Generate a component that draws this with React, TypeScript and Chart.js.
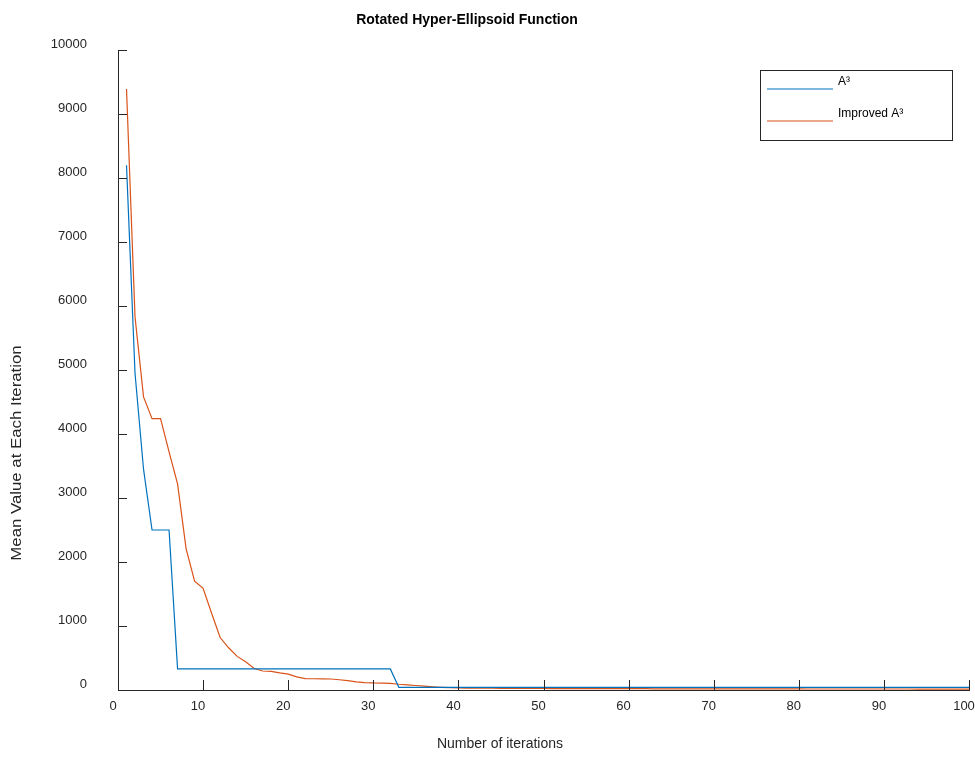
import React, { useEffect, useRef } from "react";
import { Chart, registerables } from "chart.js";

Chart.register(...registerables);

const chartTitle = "Rotated Hyper-Ellipsoid Function";
const xAxisTitle = "Number of iterations";
const yAxisTitle = "Mean Value at Each Iteration";
const seriesNames = ["A³", "Improved A³"];
const seriesColors = ["#0072BD", "#D95319"];

const iterations = [
  1, 2, 3, 4, 5, 6, 7, 8, 9, 10, 11, 12, 13, 14, 15, 16, 17, 18, 19, 20,
  21, 22, 23, 24, 25, 26, 27, 28, 29, 30, 31, 32, 33, 34, 35, 36, 37, 38, 39, 40,
  41, 42, 43, 44, 45, 46, 47, 48, 49, 50, 51, 52, 53, 54, 55, 56, 57, 58, 59, 60,
  61, 62, 63, 64, 65, 66, 67, 68, 69, 70, 71, 72, 73, 74, 75, 76, 77, 78, 79, 80,
  81, 82, 83, 84, 85, 86, 87, 88, 89, 90, 91, 92, 93, 94, 95, 96, 97, 98, 99, 100,
];

const a3Values = [
  8200, 4950, 3450, 2500, 2500, 2500, 330, 330, 330, 330,
  330, 330, 330, 330, 330, 330, 330, 330, 330, 330,
  330, 330, 330, 330, 330, 330, 330, 330, 330, 330,
  330, 330, 42, 42, 42, 42, 42, 42, 42, 42,
  42, 42, 42, 42, 42, 42, 42, 42, 42, 42,
  42, 42, 42, 42, 42, 42, 42, 42, 42, 42,
  42, 42, 42, 42, 42, 42, 42, 42, 42, 42,
  42, 42, 42, 42, 42, 42, 42, 42, 42, 42,
  42, 42, 42, 42, 42, 42, 42, 42, 42, 42,
  42, 42, 42, 42, 42, 42, 42, 42, 42, 42,
];

const improvedA3Values = [
  9390, 5830, 4580, 4240, 4240, 3720, 3220, 2210, 1700, 1590,
  1200, 820, 660, 525, 440, 335, 297, 292, 268, 248,
  205, 178, 176, 174, 172, 160, 145, 127, 116, 110,
  107, 104, 90, 80, 70, 60, 50, 42, 36, 31,
  29, 28, 27, 27, 26, 26, 25, 25, 24, 24,
  23, 23, 22, 22, 22, 21, 21, 21, 20, 20,
  20, 20, 19, 19, 19, 19, 18, 18, 18, 18,
  18, 18, 17, 17, 17, 17, 17, 17, 17, 17,
  16, 16, 16, 16, 16, 16, 16, 16, 16, 16,
  16, 16, 16, 15, 15, 15, 15, 15, 15, 15,
];

const FONT = "'Liberation Sans', Arial, Helvetica, sans-serif";
const AXIS_COLOR = "#262626";

const decorPlugin = {
  id: "matlabDecor",
  afterDraw(chart: any) {
    const ctx = chart.ctx as CanvasRenderingContext2D;
    const area = chart.chartArea;
    const xs = chart.scales.x;
    const ys = chart.scales.y;
    ctx.save();
    // inward tick marks
    ctx.strokeStyle = AXIS_COLOR;
    ctx.lineWidth = 1;
    ctx.beginPath();
    ys.ticks.forEach((t: any) => {
      const py = Math.round(ys.getPixelForValue(t.value)) + 0.5;
      ctx.moveTo(area.left, py);
      ctx.lineTo(area.left + 9, py);
    });
    xs.ticks.forEach((t: any) => {
      const px = Math.round(xs.getPixelForValue(t.value)) + 0.5;
      ctx.moveTo(px, area.bottom);
      ctx.lineTo(px, area.bottom - 10);
    });
    ctx.stroke();

    // title
    ctx.fillStyle = "#000";
    ctx.font = `bold 14px ${FONT}`;
    ctx.textAlign = "center";
    ctx.textBaseline = "middle";
    ctx.fillText(chartTitle, 467, 20);

    // x title
    ctx.fillStyle = AXIS_COLOR;
    ctx.font = `14px ${FONT}`;
    ctx.fillText(xAxisTitle, 500, 744);

    // y title
    ctx.save();
    ctx.translate(17, 453);
    ctx.rotate(-Math.PI / 2);
    ctx.scale(1.2, 1);
    ctx.fillText(yAxisTitle, 0, 0);
    ctx.restore();

    // legend
    const bx = 760.5, by = 70.5, bw = 192, bh = 70;
    ctx.fillStyle = "#fff";
    ctx.fillRect(bx, by, bw, bh);
    ctx.strokeStyle = AXIS_COLOR;
    ctx.lineWidth = 1;
    ctx.strokeRect(bx, by, bw, bh);
    const rows = [89, 121];
    chart.data.datasets.forEach((ds: any, i: number) => {
      ctx.strokeStyle = ds.borderColor;
      ctx.lineWidth = 1.2;
      ctx.beginPath();
      ctx.moveTo(767, rows[i]);
      ctx.lineTo(833, rows[i]);
      ctx.stroke();
      ctx.fillStyle = "#000";
      ctx.font = `12px ${FONT}`;
      ctx.textAlign = "left";
      ctx.textBaseline = "middle";
      ctx.fillText(ds.label, 838, rows[i] - 7);
    });
    ctx.restore();
  },
};

export default function App() {
  const canvasRef = useRef<HTMLCanvasElement | null>(null);

  useEffect(() => {
    if (!canvasRef.current) return;
    const chart = new Chart(canvasRef.current, {
      type: "line",
      data: {
        labels: iterations,
        datasets: [
          {
            label: seriesNames[0],
            data: iterations.map((x, i) => ({ x, y: a3Values[i] })),
            borderColor: seriesColors[0],
            backgroundColor: seriesColors[0],
            borderWidth: 1.2,
            pointRadius: 0,
            tension: 0,
            fill: false,
          },
          {
            label: seriesNames[1],
            data: iterations.map((x, i) => ({ x, y: improvedA3Values[i] })),
            borderColor: seriesColors[1],
            backgroundColor: seriesColors[1],
            borderWidth: 1.2,
            pointRadius: 0,
            tension: 0,
            fill: false,
          },
        ],
      },
      options: {
        animation: false,
        responsive: false,
        maintainAspectRatio: false,
        layout: { padding: { left: 0, top: 50, right: 6, bottom: 0 } },
        plugins: {
          legend: { display: false },
          title: { display: false },
          tooltip: { enabled: false },
        },
        scales: {
          x: {
            type: "linear",
            min: 0,
            max: 100,
            ticks: {
              stepSize: 10,
              padding: 9,
              labelOffset: -5,
              maxRotation: 0,
              autoSkip: false,
              color: AXIS_COLOR,
              font: { family: FONT, size: 13 },
              callback: (v: any) => String(v),
            },
            grid: { display: true, drawOnChartArea: false, drawTicks: false },
            border: { display: true, color: AXIS_COLOR, width: 1 },
            afterFit(scale: any) {
              scale.height = 68;
              scale.paddingLeft = 0;
              scale.paddingRight = 0;
            },
          },
          y: {
            type: "linear",
            min: 0,
            max: 10000,
            ticks: {
              stepSize: 1000,
              padding: 31,
              labelOffset: -6,
              color: AXIS_COLOR,
              font: { family: FONT, size: 13 },
              callback: (v: any) => String(v),
            },
            grid: { display: true, drawOnChartArea: false, drawTicks: false },
            border: { display: true, color: AXIS_COLOR, width: 1 },
            afterFit(scale: any) {
              scale.width = 118;
              scale.paddingTop = 0;
              scale.paddingBottom = 0;
            },
          },
        },
      },
      plugins: [decorPlugin],
    });
    return () => chart.destroy();
  }, []);

  return (
    <div style={{ position: "fixed", left: 0, top: 0, width: 975, height: 758, background: "#fff" }}>
      <canvas ref={canvasRef} width={975} height={758} />
    </div>
  );
}
